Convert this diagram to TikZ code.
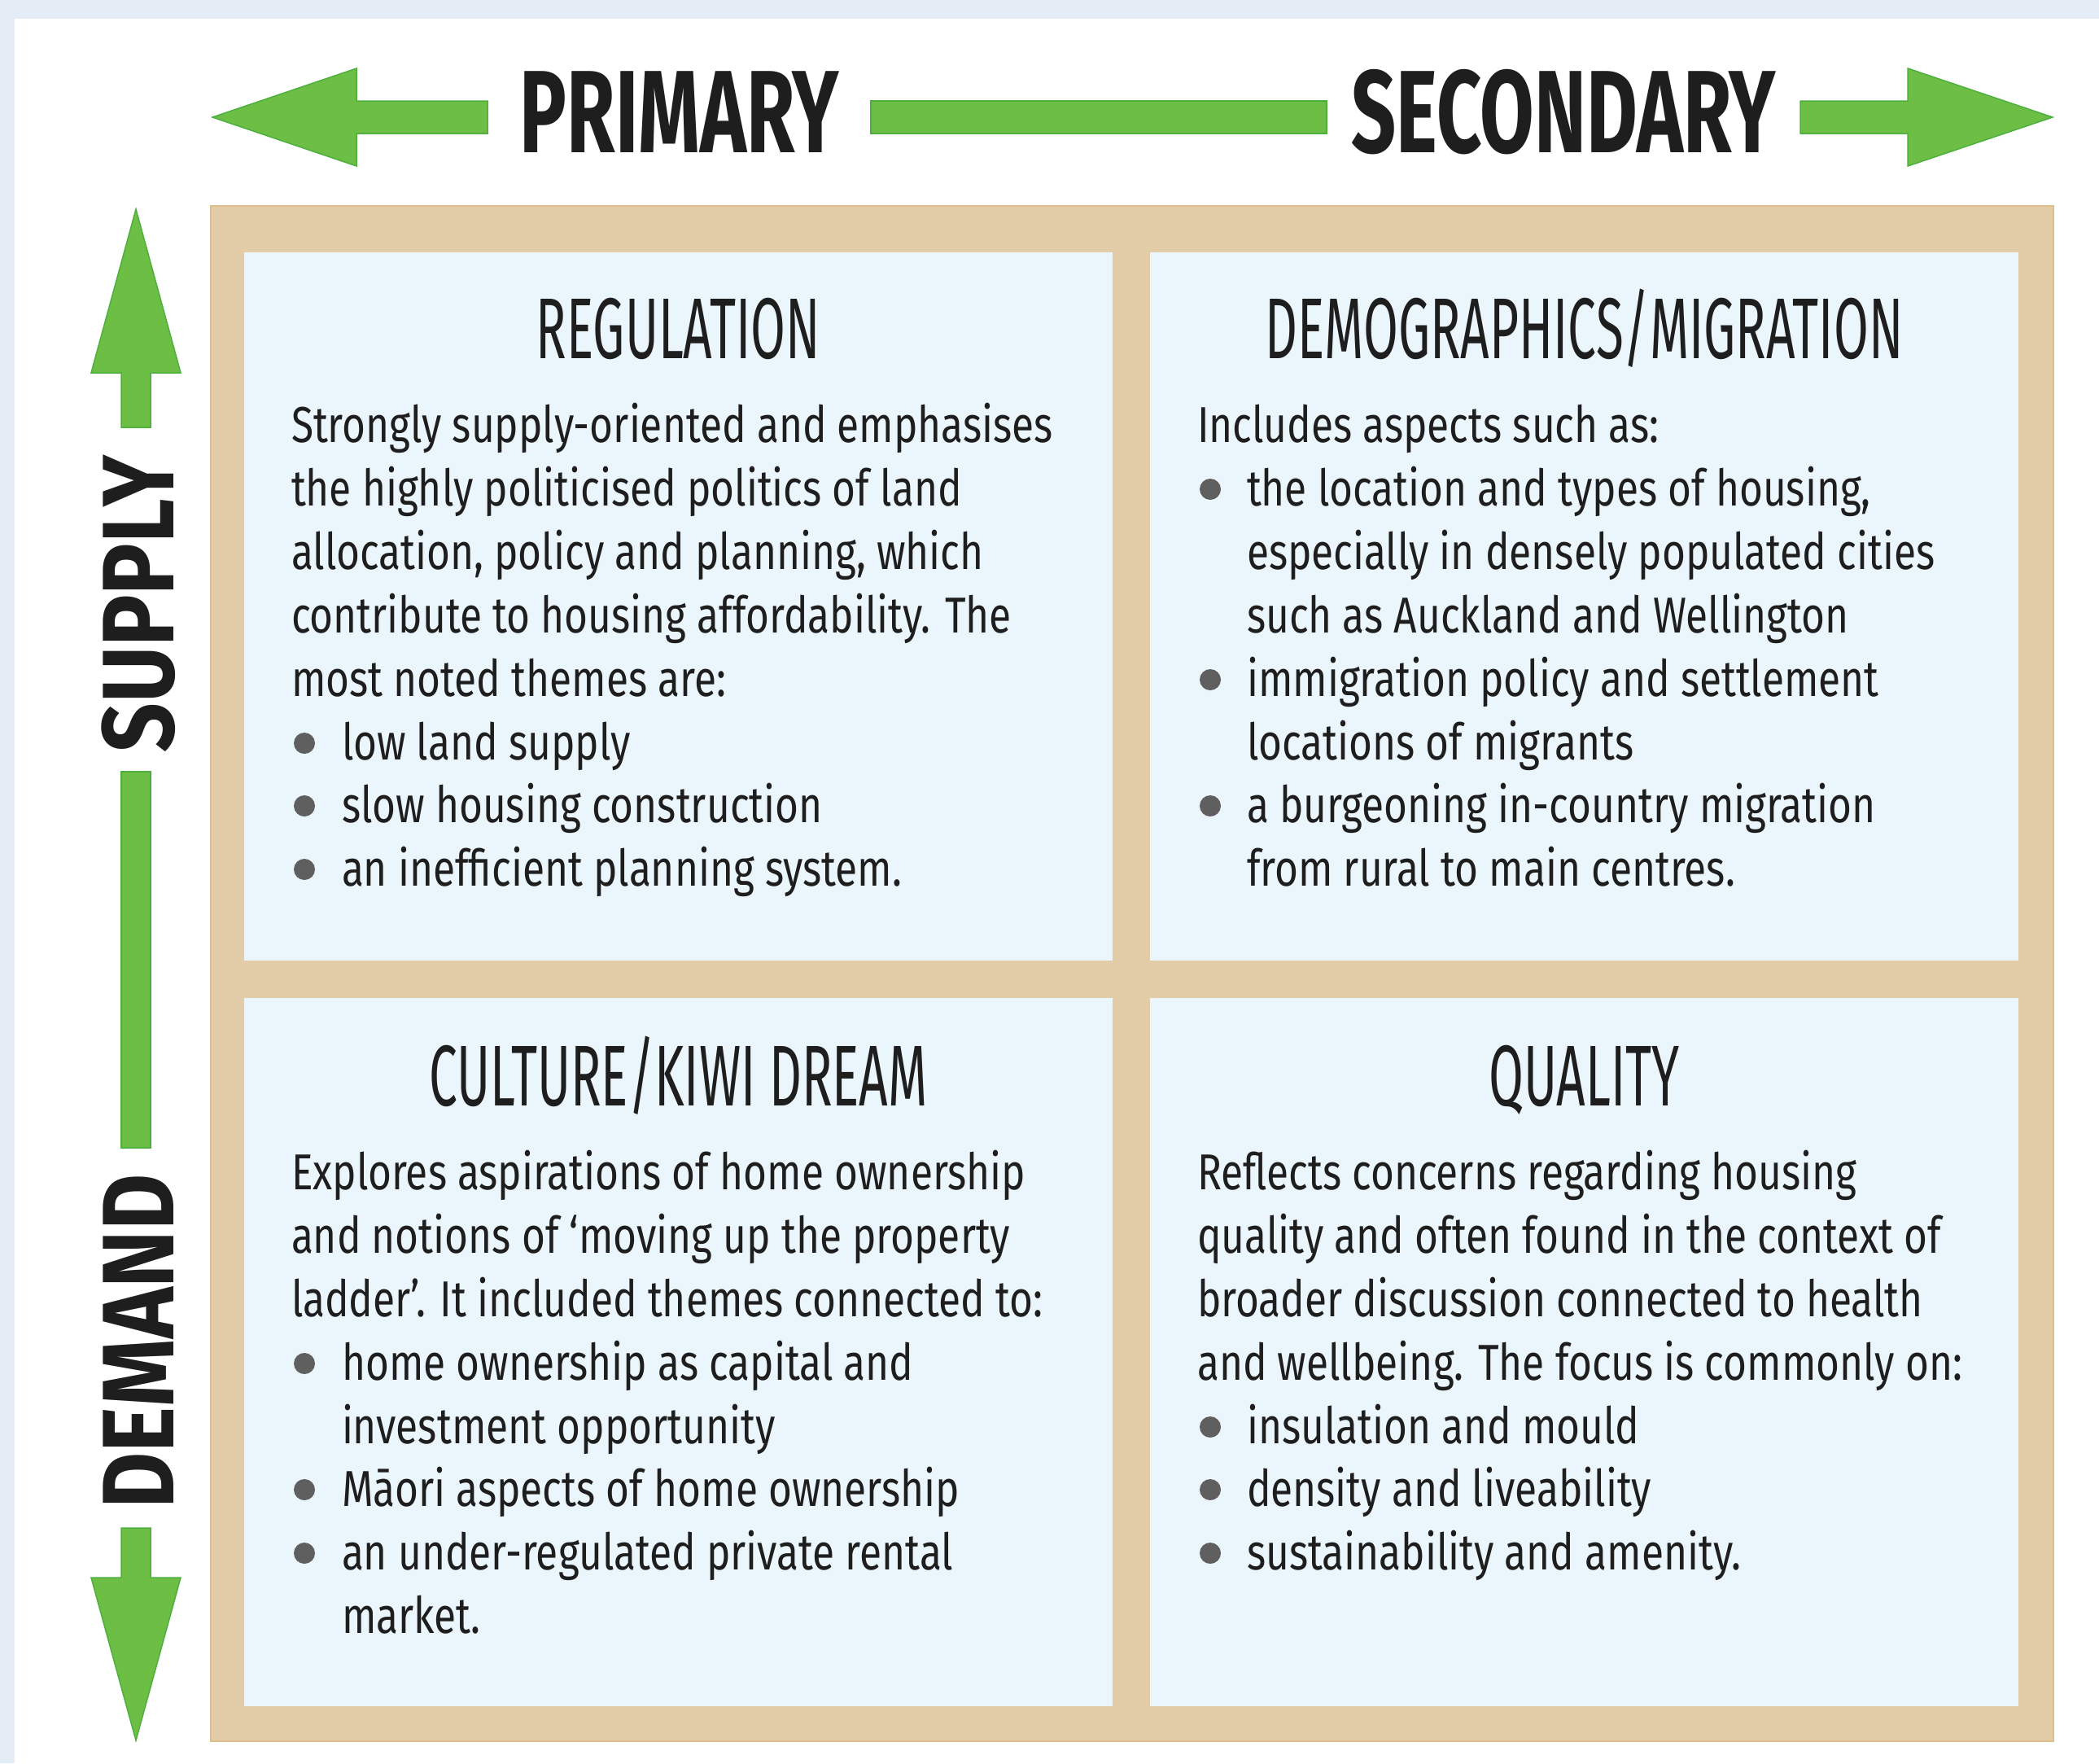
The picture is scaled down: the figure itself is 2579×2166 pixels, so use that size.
\documentclass[tikz,border=0pt]{standalone}
\usepackage{fontspec}
\setmainfont{Fira Sans}
\newfontfamily\bodyfont{Fira Sans}[FakeStretch=0.80]
\newfontfamily\titlefont{Fira Sans}[FakeStretch=0.585]
\newfontfamily\axisfont{Fira Sans}[FakeStretch=0.67]
\newfontfamily\sidefont{Fira Sans}[FakeStretch=0.85]
\definecolor{bandblue}{HTML}{E4EDF5}
\definecolor{frametan}{HTML}{E3CDA8}
\definecolor{frameedge}{HTML}{DDBE8E}
\definecolor{paneblue}{HTML}{EBF5FC}
\definecolor{arrowgreen}{HTML}{6DBE45}
\definecolor{arrowedge}{HTML}{4DB03C}
\definecolor{inkc}{HTML}{1E1E1E}
\definecolor{dotgrey}{HTML}{5F5F5F}
\tikzset{
  greenarrow/.style={fill=arrowgreen, draw=arrowedge, line width=1.5pt, line join=miter},
  pane/.style={fill=paneblue, draw=none},
  bodytxt/.style={anchor=base west, inner sep=0pt, outer sep=0pt, text=inkc, font=\bodyfont\fontsize{62}{75}\selectfont},
  titletxt/.style={anchor=base, inner sep=0pt, outer sep=0pt, text=inkc, font=\titlefont\fontsize{106}{120}\selectfont},
  axistxt/.style={anchor=base, inner sep=0pt, outer sep=0pt, text=inkc, font=\axisfont\bfseries\fontsize{144}{160}\selectfont},
  sidetxt/.style={anchor=base, rotate=90, inner sep=0pt, outer sep=0pt, text=inkc, font=\sidefont\bfseries\fontsize{125}{140}\selectfont},
  dot/.style={circle, fill=dotgrey, inner sep=0pt, minimum size=26pt}
}
\begin{document}
\begin{tikzpicture}[x=1pt,y=-1pt]
\useasboundingbox (0,0) rectangle (2579,2166);
% background
\fill[bandblue] (0,0) rectangle (2579,2166);
\fill[white] (18,23) rectangle (2579,2166);
% frame
\fill[frametan, draw=frameedge, line width=2pt] (259,253) rectangle (2523,2139);
\node[pane, minimum width=1067pt, minimum height=870pt, anchor=north west, inner sep=0pt] (tl) at (300,310) {};
\node[pane, minimum width=1067pt, minimum height=870pt, anchor=north west, inner sep=0pt] (tr) at (1413,310) {};
\node[pane, minimum width=1067pt, minimum height=870pt, anchor=north west, inner sep=0pt] (bl) at (300,1226) {};
\node[pane, minimum width=1067pt, minimum height=870pt, anchor=north west, inner sep=0pt] (br) at (1413,1226) {};

% top arrow
\fill[greenarrow] (261,144) -- (438,84) -- (438,124) -- (599,124) -- (599,164) -- (438,164) -- (438,204) -- cycle;
\fill[greenarrow] (1070,124) rectangle (1630,164);
\fill[greenarrow] (2522,144) -- (2344,84) -- (2344,124) -- (2212,124) -- (2212,164) -- (2344,164) -- (2344,204) -- cycle;
\node[axistxt] (primary) at (835,187) {PRIMARY};
\node[axistxt] (secondary) at (1921,187) {SECONDARY};

% side arrow
\fill[greenarrow] (167,257) -- (222,458) -- (185,458) -- (185,525) -- (149,525) -- (149,458) -- (112,458) -- cycle;
\fill[greenarrow] (149,948) rectangle (185,1410);
\fill[greenarrow] (167,2138) -- (222,1938) -- (185,1938) -- (185,1877) -- (149,1877) -- (149,1938) -- (112,1938) -- cycle;
\node[sidetxt] (supply) at (213,742) {SUPPLY};
\node[sidetxt] (demand) at (213,1648) {DEMAND};

% titles
\node[titletxt] (t1) at (833.5,440) {REGULATION};
\node[titletxt] (t2) at (1946.5,440) {DEMOGRAPHICS/MIGRATION};
\node[titletxt] (t3) at (833.5,1358) {CULTURE/KIWI DREAM};
\node[titletxt] (t4) at (1946.5,1358) {QUALITY};

% TL body
\node[bodytxt] (a1) at (358,543) {Strongly supply-oriented and emphasises};
\node[bodytxt] (a2) at (358,621) {the highly politicised politics of land};
\node[bodytxt] (a3) at (358,699) {allocation, policy and planning, which};
\node[bodytxt] (a4) at (358,777) {contribute to housing affordability. The};
\node[bodytxt] (a5) at (358,855) {most noted themes are:};
\node[dot] (ad6) at (374,913) {};
\node[bodytxt] (a6) at (420,933) {low land supply};
\node[dot] (ad7) at (374,990) {};
\node[bodytxt] (a7) at (420,1010) {slow housing construction};
\node[dot] (ad8) at (374,1068) {};
\node[bodytxt] (a8) at (420,1088) {an inefficient planning system.};

% TR body
\node[bodytxt] (b1) at (1471,543) {Includes aspects such as:};
\node[dot] (bd2) at (1487,601) {};
\node[bodytxt] (b2) at (1532,621) {the location and types of housing,};
\node[bodytxt] (b3) at (1532,699) {especially in densely populated cities};
\node[bodytxt] (b4) at (1532,777) {such as Auckland and Wellington};
\node[dot] (bd5) at (1487,835) {};
\node[bodytxt] (b5) at (1532,855) {immigration policy and settlement};
\node[bodytxt] (b6) at (1532,933) {locations of migrants};
\node[dot] (bd7) at (1487,990) {};
\node[bodytxt] (b7) at (1532,1010) {a burgeoning in-country migration};
\node[bodytxt] (b8) at (1532,1088) {from rural to main centres.};

% BL body
\node[bodytxt] (c1) at (358,1461) {Explores aspirations of home ownership};
\node[bodytxt] (c2) at (358,1539) {and notions of ‘moving up the property};
\node[bodytxt] (c3) at (358,1617) {ladder’. It included themes connected to:};
\node[dot] (cd4) at (374,1675) {};
\node[bodytxt] (c4) at (420,1695) {home ownership as capital and};
\node[bodytxt] (c5) at (420,1773) {investment opportunity};
\node[dot] (cd6) at (374,1830) {};
\node[bodytxt] (c6) at (420,1850) {Māori aspects of home ownership};
\node[dot] (cd7) at (374,1908) {};
\node[bodytxt] (c7) at (420,1928) {an under-regulated private rental};
\node[bodytxt] (c8) at (420,2006) {market.};

% BR body
\node[bodytxt] (d1) at (1471,1461) {Reflects concerns regarding housing};
\node[bodytxt] (d2) at (1471,1539) {quality and often found in the context of};
\node[bodytxt] (d3) at (1471,1617) {broader discussion connected to health};
\node[bodytxt] (d4) at (1471,1695) {and wellbeing. The focus is commonly on:};
\node[dot] (dd5) at (1487,1753) {};
\node[bodytxt] (d5) at (1532,1773) {insulation and mould};
\node[dot] (dd6) at (1487,1830) {};
\node[bodytxt] (d6) at (1532,1850) {density and liveability};
\node[dot] (dd7) at (1487,1908) {};
\node[bodytxt] (d7) at (1532,1928) {sustainability and amenity.};
\end{tikzpicture}
\end{document}
